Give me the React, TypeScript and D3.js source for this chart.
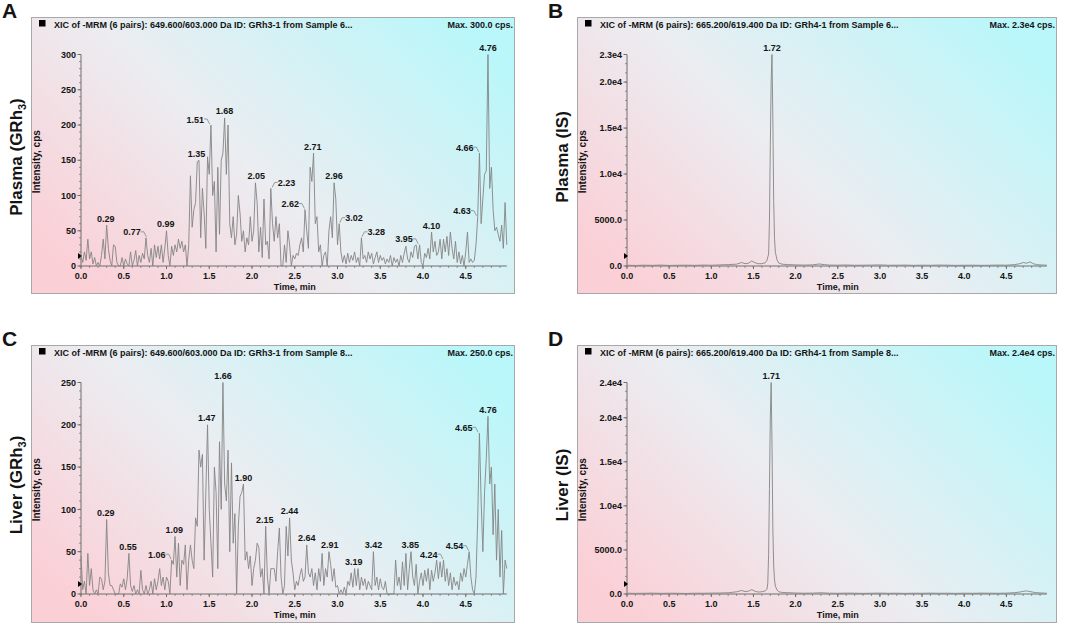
import React, { useEffect, useRef } from "react";
import * as d3 from "d3";

// GRh3 traces are sampled every 0.02 min, from 0.00 to 4.98 min
const SAMPLE_STEP = 0.02;

// Plasma, GRh3 (cps)
const plasmaGRh3Cps = [
  15, 5, 20, 8, 38, 10, 20, 3, 12, 0,
  5, 0, 15, 38, 10, 58, 25, 8, 0, 30,
  28, 5, 0, 0, 12, 0, 10, 3, 0, 20,
  0, 8, 22, 0, 15, 5, 18, 10, 40, 15,
  5, 25, 0, 30, 12, 28, 10, 30, 5, 25,
  50, 15, 0, 28, 15, 30, 20, 38, 25, 35,
  20, 30, 0, 30, 128, 55, 80, 90, 148, 150,
  40, 110, 75, 25, 155, 130, 200, 100, 120, 20,
  140, 45, 150, 160, 210, 130, 200, 60, 40, 70,
  30, 45, 100, 75, 35, 50, 20, 40, 30, 70,
  35, 50, 118, 90, 20, 55, 12, 95, 30, 35,
  10, 110, 60, 35, 70, 40, 60, 0, 0, 30,
  5, 50, 30, 0, 15, 10, 18, 15, 30, 40,
  20, 80, 50, 25, 140, 120, 160, 60, 70, 20,
  30, 0, 15, 20, 0, 50, 70, 40, 118, 95,
  30, 60, 20, 5, 15, 3, 18, 5, 15, 8,
  20, 5, 12, 0, 40, 10, 15, 5, 20, 10,
  18, 3, 12, 20, 5, 15, 8, 12, 3, 10,
  5, 15, 0, 12, 5, 10, 0, 15, 5, 18,
  28, 10, 5, 20, 12, 28, 30, 10, 30, 5,
  0, 18, 12, 25, 10, 48, 20, 35, 15, 20,
  38, 10, 38, 20, 42, 15, 48, 25, 10, 35,
  5, 20, 3, 15, 0, 20, 48, 5, 10, 5,
  8, 30, 70, 160, 60, 95, 130, 135, 300, 110,
  140, 80, 50, 55, 45, 35, 58, 25, 90, 30,
];

// Liver, GRh3 (cps)
const liverGRh3Cps = [
  45, 5, 15, 0, 48, 10, 30, 5, 0, 5,
  0, 20, 18, 5, 15, 88, 25, 10, 10, 5,
  0, 0, 0, 12, 8, 18, 5, 18, 48, 10,
  3, 10, 0, 5, 0, 28, 5, 0, 10, 0,
  5, 15, 0, 18, 5, 15, 30, 10, 20, 5,
  20, 15, 0, 40, 35, 68, 20, 60, 10, 40,
  35, 58, 5, 40, 58, 40, 30, 90, 80, 170,
  150, 165, 40, 120, 200, 100, 60, 20, 150, 120,
  30, 180, 100, 250, 130, 110, 170, 50, 155, 60,
  95, 0, 80, 115, 120, 130, 40, 50, 30, 45,
  10, 30, 40, 60, 55, 20, 30, 0, 80, 20,
  0, 30, 30, 30, 15, 50, 78, 20, 0, 10,
  80, 45, 90, 40, 25, 5, 15, 10, 22, 30,
  15, 20, 58, 25, 20, 30, 10, 25, 5, 30,
  15, 48, 10, 30, 20, 50, 35, 15, 30, 8,
  10, 0, 5, 0, 8, 0, 15, 10, 25, 8,
  30, 10, 30, 5, 20, 10, 18, 5, 15, 10,
  5, 50, 10, 20, 5, 18, 8, 5, 15, 0,
  0, 0, 0, 0, 40, 10, 20, 5, 38, 10,
  48, 5, 30, 50, 20, 10, 35, 0, 15, 25,
  10, 28, 15, 30, 5, 28, 15, 25, 40, 18,
  38, 20, 40, 15, 30, 10, 25, 5, 20, 10,
  15, 5, 25, 15, 30, 20, 35, 50, 20, 5,
  0, 20, 90, 190, 110, 50, 120, 160, 210, 130,
  150, 70, 130, 40, 100, 20, 75, 0, 40, 30,
];

// Plasma, IS (GRh4) - time (min) and intensity (cps)
const plasmaISTime = [
  0.0, 0.1, 0.2, 0.3, 0.4, 0.5, 0.6, 0.7, 0.8, 0.9, 1.0, 1.1, 1.2, 1.3,
  1.36, 1.4, 1.44, 1.48, 1.52, 1.56, 1.6, 1.64, 1.66, 1.68, 1.69, 1.7,
  1.71, 1.72, 1.73, 1.74, 1.75, 1.76, 1.78, 1.8, 1.84, 1.9, 2.0, 2.1, 2.2,
  2.28, 2.34, 2.4, 2.5, 2.6, 2.7, 2.8, 2.9, 3.0, 3.1, 3.2, 3.3, 3.4, 3.5,
  3.6, 3.7, 3.8, 3.9, 4.0, 4.1, 4.2, 4.3, 4.4, 4.5, 4.6, 4.66, 4.7, 4.74,
  4.78, 4.82, 4.86, 4.9, 4.95, 4.98,
];
const plasmaISCps = [
  80, 60, 90, 70, 100, 60, 80, 90, 70, 100, 80, 120, 150, 200,
  380, 250, 300, 550, 350, 250, 250, 350, 600, 1300, 5000, 13000,
  20000, 23000, 16000, 7000, 3000, 1500, 650, 320, 200, 150, 120, 100, 120,
  220, 150, 100, 90, 110, 80, 90, 100, 120, 80, 90, 100, 70, 90,
  80, 100, 90, 70, 80, 90, 70, 80, 100, 90, 150, 250, 380, 300,
  450, 250, 150, 120, 100, 90,
];

// Liver, IS (GRh4)
const liverISTime = [
  0.0, 0.1, 0.2, 0.3, 0.4, 0.5, 0.6, 0.7, 0.8, 0.9, 1.0, 1.1, 1.2, 1.3,
  1.36, 1.4, 1.44, 1.48, 1.52, 1.56, 1.6, 1.64, 1.66, 1.67, 1.68, 1.69,
  1.7, 1.71, 1.72, 1.73, 1.74, 1.75, 1.76, 1.78, 1.8, 1.84, 1.9, 2.0, 2.1,
  2.2, 2.3, 2.4, 2.5, 2.6, 2.7, 2.8, 2.9, 3.0, 3.1, 3.2, 3.3, 3.4, 3.5,
  3.6, 3.7, 3.8, 3.9, 4.0, 4.1, 4.2, 4.3, 4.4, 4.5, 4.6, 4.66, 4.7, 4.74,
  4.78, 4.82, 4.86, 4.9, 4.95, 4.98,
];
const liverISCps = [
  90, 70, 80, 100, 70, 90, 80, 60, 90, 80, 100, 110, 140, 250,
  400, 280, 320, 500, 300, 220, 260, 350, 550, 1200, 4500, 12000,
  20000, 24000, 17000, 7500, 3200, 1600, 900, 450, 250, 180, 150, 110, 90,
  100, 140, 90, 80, 100, 90, 70, 90, 100, 80, 90, 70, 90, 80,
  100, 80, 90, 70, 90, 80, 100, 90, 80, 100, 150, 220, 300, 350,
  280, 200, 150, 120, 100, 90,
];

// labelled peaks: [retention time, height]
const plasmaGRh3Peaks: [number, number][] = [
  [0.29, 58], [0.77, 40], [0.99, 50], [1.35, 150], [1.51, 200], [1.68, 210],
  [2.05, 118], [2.23, 110], [2.62, 80], [2.71, 160], [2.96, 118], [3.02, 60],
  [3.28, 40], [3.95, 30], [4.1, 48], [4.63, 70], [4.66, 160], [4.76, 300],
];
const plasmaGRh3LeftLead = [0.77, 1.51, 2.62, 3.95, 4.63, 4.66];
const plasmaGRh3RightLead = [2.23, 3.02, 3.28];

const liverGRh3Peaks: [number, number][] = [
  [0.29, 88], [0.55, 48], [1.06, 40], [1.09, 68], [1.47, 200], [1.66, 250],
  [1.9, 130], [2.15, 80], [2.44, 90], [2.64, 58], [2.91, 50], [3.19, 30],
  [3.42, 50], [3.85, 50], [4.24, 40], [4.54, 50], [4.65, 190], [4.76, 210],
];
const liverGRh3LeftLead = [1.06, 4.24, 4.54, 4.65];

const plasmaISPeaks: [number, number][] = [[1.72, 23000]];
const liverISPeaks: [number, number][] = [[1.71, 24000]];

const timeTicks = [0, 0.5, 1, 1.5, 2, 2.5, 3, 3.5, 4, 4.5];
const plasmaGRh3Ticks = [0, 50, 100, 150, 200, 250, 300];
const liverGRh3Ticks = [0, 50, 100, 150, 200, 250];
const plasmaISTicks = [0, 5000, 10000, 15000, 20000, 23000];
const plasmaISTickLabels = ["0.0", "5000.0", "1.0e4", "1.5e4", "2.0e4", "2.3e4"];
const liverISTicks = [0, 5000, 10000, 15000, 20000, 24000];
const liverISTickLabels = ["0.0", "5000.0", "1.0e4", "1.5e4", "2.0e4", "2.4e4"];

const grh3Time = plasmaGRh3Cps.map((_, i) => +(i * SAMPLE_STEP).toFixed(2));

type Panel = {
  letter: string;
  name: string;
  sub?: string;
  title: string;
  maxText: string;
  time: number[];
  cps: number[];
  yMax: number;
  yTicks: number[];
  yLabels: string[];
  yMinor: number;
  peaks: [number, number][];
  leftLead: number[];
  rightLead: number[];
  fx: number;
  fy: number;
  fw: number;
  fh: number;
  plotW: number;
};

const panels: Panel[] = [
  {
    letter: "A", name: "Plasma (GRh", sub: "3",
    title: "XIC of -MRM (6 pairs): 649.600/603.000 Da ID: GRh3-1 from Sample 6...",
    maxText: "Max. 300.0 cps.",
    time: grh3Time, cps: plasmaGRh3Cps, yMax: 300,
    yTicks: plasmaGRh3Ticks, yLabels: plasmaGRh3Ticks.map(String), yMinor: 10,
    peaks: plasmaGRh3Peaks, leftLead: plasmaGRh3LeftLead, rightLead: plasmaGRh3RightLead,
    fx: 31, fy: 17, fw: 483, fh: 276, plotW: 427.5,
  },
  {
    letter: "B", name: "Plasma (IS)",
    title: "XIC of -MRM (6 pairs): 665.200/619.400 Da ID: GRh4-1 from Sample 6...",
    maxText: "Max. 2.3e4 cps.",
    time: plasmaISTime, cps: plasmaISCps, yMax: 23000,
    yTicks: plasmaISTicks, yLabels: plasmaISTickLabels, yMinor: 1000,
    peaks: plasmaISPeaks, leftLead: [], rightLead: [],
    fx: 577, fy: 17, fw: 479, fh: 276, plotW: 421.5,
  },
  {
    letter: "C", name: "Liver (GRh", sub: "3",
    title: "XIC of -MRM (6 pairs): 649.600/603.000 Da ID: GRh3-1 from Sample 8...",
    maxText: "Max. 250.0 cps.",
    time: grh3Time, cps: liverGRh3Cps, yMax: 250,
    yTicks: liverGRh3Ticks, yLabels: liverGRh3Ticks.map(String), yMinor: 10,
    peaks: liverGRh3Peaks, leftLead: liverGRh3LeftLead, rightLead: [],
    fx: 31, fy: 345, fw: 483, fh: 277, plotW: 427.5,
  },
  {
    letter: "D", name: "Liver (IS)",
    title: "XIC of -MRM (6 pairs): 665.200/619.400 Da ID: GRh4-1 from Sample 8...",
    maxText: "Max. 2.4e4 cps.",
    time: liverISTime, cps: liverISCps, yMax: 24000,
    yTicks: liverISTicks, yLabels: liverISTickLabels, yMinor: 1000,
    peaks: liverISPeaks, leftLead: [], rightLead: [],
    fx: 577, fy: 345, fw: 479, fh: 277, plotW: 421.5,
  },
];

const FONT = "'Liberation Sans', Arial, Helvetica, sans-serif";
const INK = "#141414";
const AXIS = "#6e6e6e";
const TRACE = "#858585";

export default function App() {
  const ref = useRef<SVGSVGElement>(null);

  useEffect(() => {
    const svg = d3.select(ref.current!);
    svg.selectAll("*").remove();
    const defs = svg.append("defs");

    panels.forEach((p, i) => {
      const grad = defs
        .append("linearGradient")
        .attr("id", `bg${i}`)
        .attr("x1", 0)
        .attr("y1", 0.8)
        .attr("x2", 1)
        .attr("y2", 0.2);
      grad.append("stop").attr("offset", 0).attr("stop-color", "#fbcfd6");
      grad.append("stop").attr("offset", 0.45).attr("stop-color", "#ebedf1");
      grad.append("stop").attr("offset", 1).attr("stop-color", "#b9f7fa");

      const g = svg.append("g").attr("font-family", FONT).attr("fill", INK);

      // frame
      g.append("rect")
        .attr("x", p.fx + 0.5)
        .attr("y", p.fy + 0.5)
        .attr("width", p.fw)
        .attr("height", p.fh)
        .attr("fill", `url(#bg${i})`)
        .attr("stroke", "#a8a8a8");

      // panel letter
      g.append("text")
        .attr("x", p.fx - 29)
        .attr("y", p.fy + 1)
        .attr("font-size", 21)
        .attr("font-weight", "bold")
        .text(p.letter);

      // sample name
      const nm = g
        .append("text")
        .attr("transform", `translate(${p.fx - 9.5},${p.fy + 140}) rotate(-90)`)
        .attr("text-anchor", "middle")
        .attr("font-size", 17)
        .attr("font-weight", "bold");
      nm.append("tspan").text(p.name);
      if (p.sub) {
        nm.append("tspan").attr("font-size", 11).attr("dy", 4).text(p.sub);
        nm.append("tspan").attr("dy", -4).text(")");
      }

      // title strip
      g.append("rect")
        .attr("x", p.fx + 8)
        .attr("y", p.fy + 3)
        .attr("width", 6.5)
        .attr("height", 6.5)
        .attr("fill", "#000");
      g.append("text")
        .attr("x", p.fx + 23)
        .attr("y", p.fy + 10.5)
        .attr("font-size", 9)
        .attr("font-weight", "bold")
        .text(p.title);
      g.append("text")
        .attr("x", p.fx + p.fw - 1)
        .attr("y", p.fy + 10.5)
        .attr("text-anchor", "end")
        .attr("font-size", 9)
        .attr("font-weight", "bold")
        .text(p.maxText);

      const left = p.fx + 50;
      const top = p.fy + 37.5;
      const bottom = p.fy + 249;
      const x = d3.scaleLinear().domain([0, 5]).range([left, left + p.plotW]);
      const y = d3.scaleLinear().domain([0, p.yMax]).range([bottom, top]);

      // axes
      g.append("line")
        .attr("x1", left).attr("x2", left)
        .attr("y1", top).attr("y2", bottom)
        .attr("stroke", AXIS);
      g.append("line")
        .attr("x1", left).attr("x2", x(4.98))
        .attr("y1", bottom).attr("y2", bottom)
        .attr("stroke", AXIS);

      const yMinor = d3.range(0, p.yMax + 1, p.yMinor);
      g.selectAll(".ym")
        .data(yMinor)
        .join("line")
        .attr("x1", left - 2).attr("x2", left)
        .attr("y1", (d) => y(d)).attr("y2", (d) => y(d))
        .attr("stroke", AXIS)
        .attr("stroke-width", 0.7);
      g.selectAll(".yt")
        .data(p.yTicks)
        .join("line")
        .attr("x1", left - 3.5).attr("x2", left)
        .attr("y1", (d) => y(d)).attr("y2", (d) => y(d))
        .attr("stroke", AXIS);
      g.selectAll(".yl")
        .data(p.yTicks)
        .join("text")
        .attr("x", left - 5)
        .attr("y", (d) => y(d) + 3.2)
        .attr("text-anchor", "end")
        .attr("font-size", 9)
        .attr("font-weight", "bold")
        .text((_, j) => p.yLabels[j]);

      const xMinor = d3.range(0, 50).map((k) => k / 10);
      g.selectAll(".xm")
        .data(xMinor)
        .join("line")
        .attr("x1", (d) => x(d)).attr("x2", (d) => x(d))
        .attr("y1", bottom).attr("y2", bottom + 2)
        .attr("stroke", AXIS)
        .attr("stroke-width", 0.7);
      g.selectAll(".xt")
        .data(timeTicks)
        .join("line")
        .attr("x1", (d) => x(d)).attr("x2", (d) => x(d))
        .attr("y1", bottom).attr("y2", bottom + 3)
        .attr("stroke", AXIS);
      g.selectAll(".xl")
        .data(timeTicks)
        .join("text")
        .attr("x", (d) => x(d))
        .attr("y", bottom + 12.5)
        .attr("text-anchor", "middle")
        .attr("font-size", 9)
        .attr("font-weight", "bold")
        .text((d) => d.toFixed(1));

      g.append("text")
        .attr("x", left + p.plotW / 2)
        .attr("y", bottom + 23.5)
        .attr("text-anchor", "middle")
        .attr("font-size", 9)
        .attr("font-weight", "bold")
        .text("Time, min");
      g.append("text")
        .attr("transform", `translate(${left - 41},${(top + bottom) / 2 + 1.5}) rotate(-90)`)
        .attr("text-anchor", "middle")
        .attr("font-size", 10)
        .attr("font-weight", "bold")
        .text("Intensity, cps");

      // threshold marker
      g.append("path")
        .attr("d", `M${left - 3},${bottom - 13}L${left + 1},${bottom - 10}L${left - 3},${bottom - 7}Z`)
        .attr("fill", "#000");

      // trace
      const line = d3
        .line<number>()
        .x((_, j) => x(p.time[j]))
        .y((d) => y(d));
      g.append("path")
        .datum(p.cps)
        .attr("d", line)
        .attr("fill", "none")
        .attr("stroke", TRACE)
        .attr("stroke-width", 0.9)
        .attr("stroke-linejoin", "round");

      // peak labels
      p.peaks.forEach(([t, v]) => {
        const px = x(t);
        const py = y(v);
        const lbl = g
          .append("text")
          .attr("font-size", 9)
          .attr("font-weight", "bold")
          .text(t.toFixed(2));
        if (p.leftLead.includes(t)) {
          lbl.attr("x", px - 6).attr("y", py - 2.5).attr("text-anchor", "end");
          g.append("path")
            .attr("d", `M${px - 6},${py - 6}L${px - 3},${py - 6}L${px - 0.5},${py - 1}`)
            .attr("fill", "none")
            .attr("stroke", "#777")
            .attr("stroke-width", 0.7);
        } else if (p.rightLead.includes(t)) {
          lbl.attr("x", px + 6).attr("y", py - 2.5).attr("text-anchor", "start");
          g.append("path")
            .attr("d", `M${px + 0.5},${py - 1}L${px + 3},${py - 6}L${px + 6},${py - 6}`)
            .attr("fill", "none")
            .attr("stroke", "#777")
            .attr("stroke-width", 0.7);
        } else {
          lbl.attr("x", px).attr("y", py - 3.5).attr("text-anchor", "middle");
        }
      });
    });
  }, []);

  return (
    <svg
      ref={ref}
      width={1065}
      height={624}
      style={{ position: "absolute", left: 0, top: 0, background: "#fff" }}
    />
  );
}
